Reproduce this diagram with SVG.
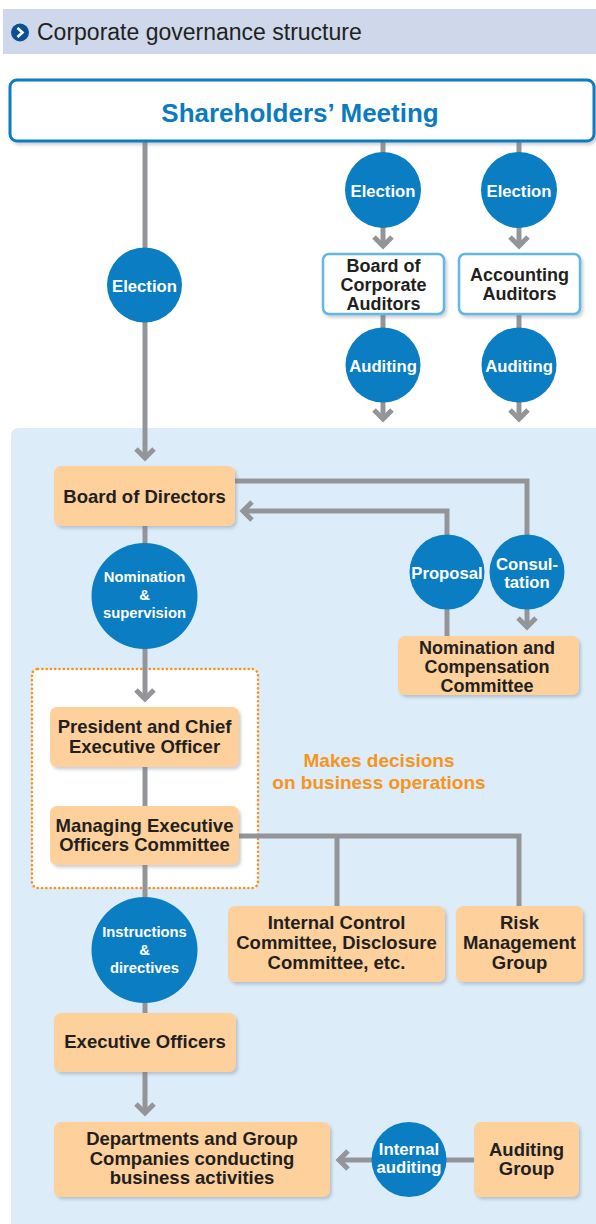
<svg xmlns="http://www.w3.org/2000/svg" width="596" height="1224" viewBox="0 0 596 1224">
  <defs>
    <filter id="sh" x="-10%" y="-10%" width="125%" height="135%">
      <feDropShadow dx="2" dy="2.5" stdDeviation="1.6" flood-color="#6a7a8a" flood-opacity="0.35"/>
    </filter>
    <marker id="ah" viewBox="-15 -15 30 30" markerWidth="30" markerHeight="30" refX="0" refY="0" orient="auto" markerUnits="userSpaceOnUse">
      <path d="M-9,-9 L0,0 L-9,9" fill="none" stroke="#939598" stroke-width="5"/>
    </marker>
    <style>
      text { font-family: "Liberation Sans", Arial, sans-serif; }
      .title { font-size: 23px; fill: #231f20; }
      .sm { font-size: 26px; font-weight: bold; fill: #0b7bc1; text-anchor: middle; }
      .bx { font-size: 18.5px; font-weight: bold; fill: #231f20; text-anchor: middle; }
      .bxs { font-size: 18px; font-weight: bold; fill: #231f20; text-anchor: middle; }
      .ct { font-size: 16.7px; font-weight: bold; fill: #ffffff; text-anchor: middle; }
      .ct2 { font-size: 14.8px; font-weight: bold; fill: #ffffff; text-anchor: middle; }
      .or { font-size: 19px; font-weight: bold; fill: #f7941d; text-anchor: middle; }
      .peach { fill: #fdd09c; filter: url(#sh); }
      .wbox { fill: #ffffff; stroke: #62b7e7; stroke-width: 2.5; filter: url(#sh); }
      .circ { fill: #0a7dc3; }
      .ln { fill: none; stroke: #939598; stroke-width: 5; }
      .arr { marker-end: url(#ah); }
    </style>
  </defs>

  <!-- title bar -->
  <g id="title">
    <rect x="3" y="9" width="593" height="45" fill="#ced8ea"/>
    <circle cx="20" cy="32.5" r="9" fill="#0b4f95"/>
    <path d="M17.5,28 L22.5,32.5 L17.5,37" fill="none" stroke="#ffffff" stroke-width="2.6"/>
    <text class="title" x="37" y="40">Corporate governance structure</text>
  </g>

  <!-- background panel -->
  <path d="M11,436 Q11,428 19,428 L596,428 L596,1224 L11,1224 Z" fill="#dcecf8"/>

  <!-- dotted decision area -->
  <g id="decision-area">
    <rect x="32" y="669" width="226" height="219" rx="6" fill="#ffffff" stroke="#f7941d" stroke-width="2.6" stroke-dasharray="0.1 4.2" stroke-linecap="round"/>
    <text class="or" x="379" y="767">Makes decisions</text>
    <text class="or" x="379" y="789">on business operations</text>
  </g>

  <!-- connectors -->
  <g id="connectors">
    <path class="ln arr" d="M145,141 L145,458"/>
    <path class="ln arr" d="M383,141 L383,246"/>
    <path class="ln arr" d="M519,141 L519,246"/>
    <path class="ln arr" d="M383,314 L383,419"/>
    <path class="ln arr" d="M519,314 L519,419"/>
    <path class="ln arr" d="M235,481 L527,481 L527,627"/>
    <path class="ln arr" d="M447,636 L447,511 L243,511"/>
    <path class="ln arr" d="M145,526 L145,699"/>
    <path class="ln" d="M145,767 L145,806"/>
    <path class="ln" d="M239,836 L519,836 L519,906"/>
    <path class="ln" d="M337,836 L337,906"/>
    <path class="ln" d="M145,865 L145,1013"/>
    <path class="ln arr" d="M145,1072 L145,1113"/>
    <path class="ln arr" d="M474,1160 L339,1160"/>
  </g>

  <g id="shareholders-meeting">
    <rect x="10" y="80" width="584" height="61" rx="7" fill="#ffffff" stroke="#0b7bc1" stroke-width="3" filter="url(#sh)"/>
    <text class="sm" x="300" y="122">Shareholders’ Meeting</text>
  </g>

  <g id="election-directors">
    <circle class="circ" cx="144.5" cy="285" r="37.5"/>
    <text class="ct" x="144.5" y="292">Election</text>
  </g>
  <g id="election-auditors">
    <circle class="circ" cx="383" cy="190" r="38"/>
    <text class="ct" x="383" y="197">Election</text>
  </g>
  <g id="election-accounting">
    <circle class="circ" cx="519" cy="190" r="38"/>
    <text class="ct" x="519" y="197">Election</text>
  </g>

  <g id="board-corporate-auditors">
    <rect class="wbox" x="323" y="254" width="121" height="60" rx="6"/>
    <text class="bxs" x="383.5" y="272">Board of</text>
    <text class="bxs" x="383.5" y="291">Corporate</text>
    <text class="bxs" x="383.5" y="310">Auditors</text>
  </g>
  <g id="accounting-auditors">
    <rect class="wbox" x="459" y="254" width="121" height="60" rx="6"/>
    <text class="bxs" x="519.5" y="281">Accounting</text>
    <text class="bxs" x="519.5" y="300">Auditors</text>
  </g>

  <g id="auditing-1">
    <circle class="circ" cx="383" cy="365" r="37.5"/>
    <text class="ct" x="383" y="372">Auditing</text>
  </g>
  <g id="auditing-2">
    <circle class="circ" cx="519" cy="365" r="37.5"/>
    <text class="ct" x="519" y="372">Auditing</text>
  </g>

  <g id="board-of-directors">
    <rect class="peach" x="54" y="466" width="181" height="60" rx="7"/>
    <text class="bx" x="144.5" y="503">Board of Directors</text>
  </g>

  <g id="proposal">
    <circle class="circ" cx="447" cy="572" r="37.5"/>
    <text class="ct" x="447" y="579">Proposal</text>
  </g>
  <g id="consultation">
    <circle class="circ" cx="527" cy="572" r="37.5"/>
    <text class="ct" x="527" y="570">Consul-</text>
    <text class="ct" x="527" y="588">tation</text>
  </g>

  <g id="nomination-compensation-committee">
    <rect class="peach" x="398" y="636" width="181" height="59" rx="7"/>
    <text class="bxs" x="487" y="654">Nomination and</text>
    <text class="bxs" x="487" y="673">Compensation</text>
    <text class="bxs" x="487" y="692">Committee</text>
  </g>

  <g id="nomination-supervision">
    <circle class="circ" cx="144.5" cy="596" r="53"/>
    <text class="ct2" x="144.5" y="582">Nomination</text>
    <text class="ct2" x="144.5" y="600">&amp;</text>
    <text class="ct2" x="144.5" y="618">supervision</text>
  </g>

  <g id="president-ceo">
    <rect class="peach" x="50" y="707" width="189" height="60" rx="7"/>
    <text class="bx" x="144.5" y="733">President and Chief</text>
    <text class="bx" x="144.5" y="753">Executive Officer</text>
  </g>

  <g id="managing-executive-officers-committee">
    <rect class="peach" x="50" y="806" width="189" height="59" rx="7"/>
    <text class="bx" x="144.5" y="832">Managing Executive</text>
    <text class="bx" x="144.5" y="851">Officers Committee</text>
  </g>

  <g id="internal-control-committee">
    <rect class="peach" x="228" y="906" width="217" height="76" rx="7"/>
    <text class="bx" x="336.5" y="929">Internal Control</text>
    <text class="bx" x="336.5" y="949">Committee, Disclosure</text>
    <text class="bx" x="336.5" y="969">Committee, etc.</text>
  </g>

  <g id="risk-management-group">
    <rect class="peach" x="456" y="906" width="127" height="76" rx="7"/>
    <text class="bx" x="519.5" y="929">Risk</text>
    <text class="bx" x="519.5" y="949">Management</text>
    <text class="bx" x="519.5" y="969">Group</text>
  </g>

  <g id="instructions-directives">
    <circle class="circ" cx="144.5" cy="950" r="53"/>
    <text class="ct2" x="144.5" y="937">Instructions</text>
    <text class="ct2" x="144.5" y="955">&amp;</text>
    <text class="ct2" x="144.5" y="973">directives</text>
  </g>

  <g id="executive-officers">
    <rect class="peach" x="54" y="1013" width="182" height="59" rx="7"/>
    <text class="bx" x="145" y="1048">Executive Officers</text>
  </g>

  <g id="departments">
    <rect class="peach" x="54" y="1122" width="276" height="75" rx="7"/>
    <text class="bx" x="192" y="1145">Departments and Group</text>
    <text class="bx" x="192" y="1165">Companies conducting</text>
    <text class="bx" x="192" y="1184">business activities</text>
  </g>

  <g id="internal-auditing">
    <circle class="circ" cx="409" cy="1159.5" r="37.5"/>
    <text class="ct" x="409" y="1155">Internal</text>
    <text class="ct" x="409" y="1173">auditing</text>
  </g>

  <g id="auditing-group">
    <rect class="peach" x="474" y="1122" width="105" height="75" rx="7"/>
    <text class="bx" x="526.5" y="1156">Auditing</text>
    <text class="bx" x="526.5" y="1175">Group</text>
  </g>
</svg>
